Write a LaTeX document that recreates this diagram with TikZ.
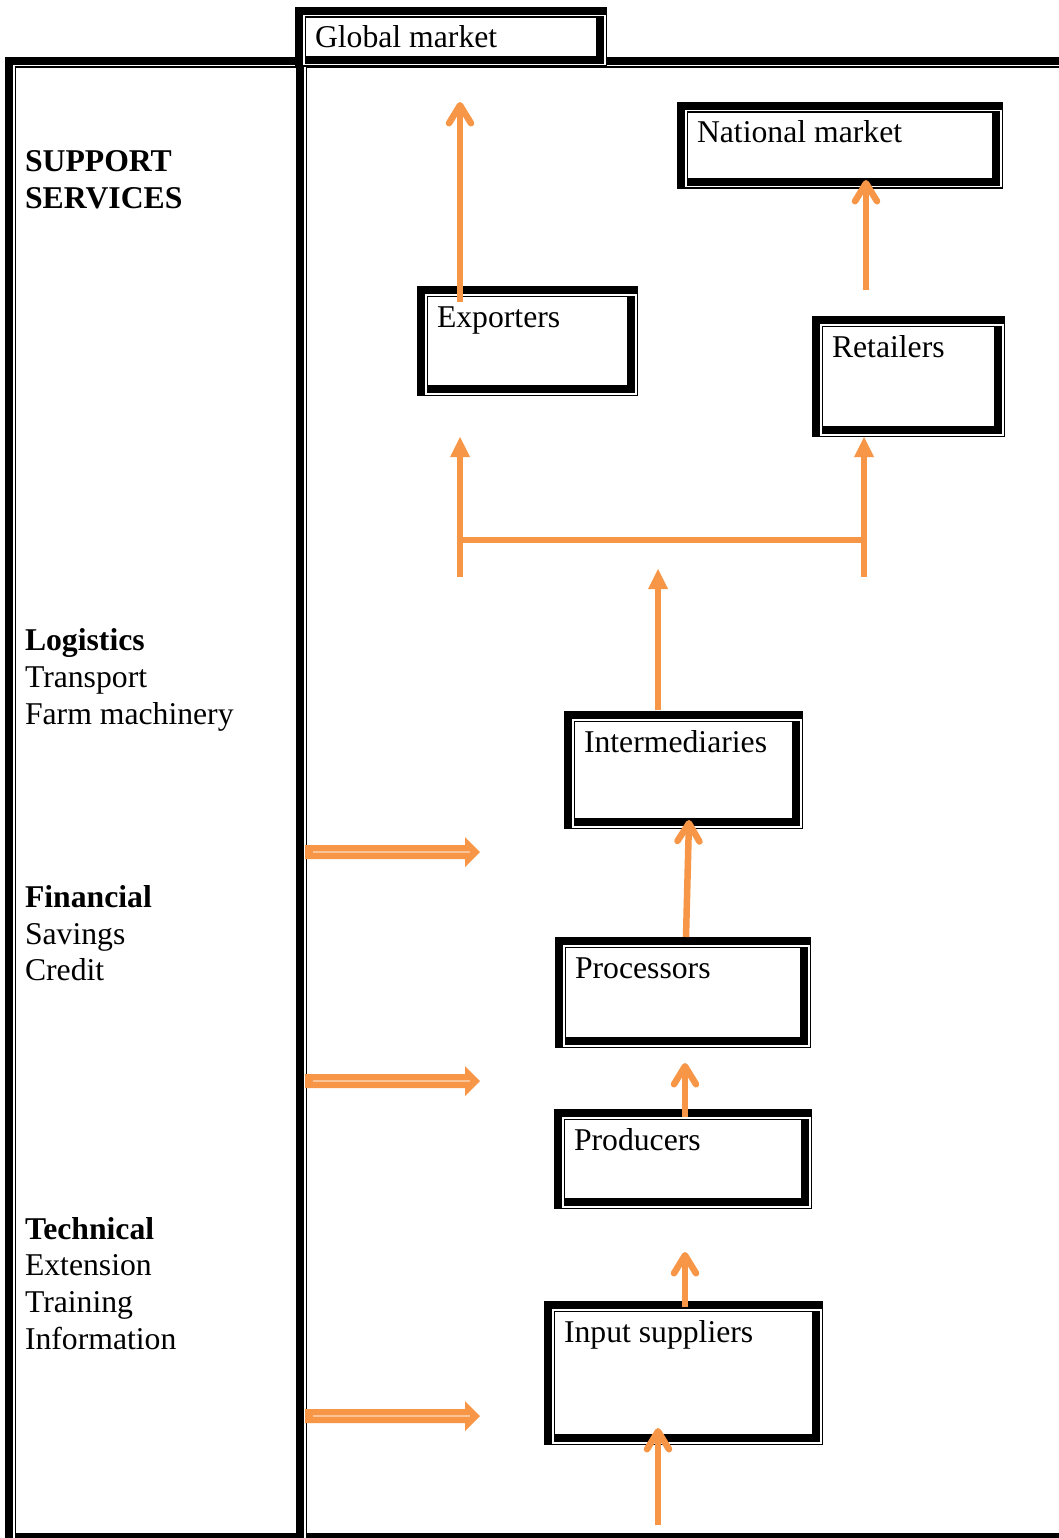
\documentclass[tikz,border=0pt]{standalone}
\usepackage{fontspec}
\setmainfont{Liberation Serif}
\usetikzlibrary{arrows.meta,calc,fit}
\definecolor{orr}{RGB}{247,150,70}
\definecolor{orlight}{RGB}{251,196,150}
\tikzset{
  lbl/.style={inner sep=0pt, outer sep=0pt, anchor=base west, font=\fontsize{31.7}{37}\selectfont},
  blbl/.style={inner sep=0pt, outer sep=0pt, anchor=base west, font=\fontsize{31.7}{37}\selectfont\bfseries},
  flow/.style={draw=orr, line width=6.5pt},
  vtip/.style={flow, -{Straight Barb[length=18pt,width=22pt,round]}},
  ttip/.style={flow, -{Triangle[length=20pt,width=20pt,line width=0pt]}},
  slot/.style={inner sep=0pt, outer sep=0pt},
}
% double (thick-thin) frame: name, x1, y1, x2, y2
\newcommand\dblframe[5]{%
  \coordinate (#1-nw) at (#2,#3);
  \coordinate (#1-se) at (#4,#5);
  \node[slot, fit=(#1-nw)(#1-se)] (#1) {};
  \fill[black] (#1.north west) rectangle (#1.south east);
  \fill[white] ($(#1.north west)+(8,8)$) rectangle ($(#1.south east)+(-1.5,-1.5)$);
  \fill[black] ($(#1.north west)+(9.5,9.5)$) rectangle ($(#1.south east)+(-3,-3)$);
  \fill[white] ($(#1.north west)+(11,11)$) rectangle ($(#1.south east)+(-11,-11)$);
}
\newcommand\dblbox[6]{%
  \dblframe{#1}{#2}{#3}{#4}{#5}
  \node[lbl] (#1-t) at ($(#1.north west)+(20,41)$) {#6};
}
\newcommand\blockarrow[2]{%
  \coordinate (#1s) at (305,#2);
  \coordinate (#1e) at (480,#2);
  \fill[orr] ($(#1s)+(0,-7)$) -- ($(#1e)+(-15,-7)$) -- ($(#1e)+(-15,-15)$) -- (#1e)
     -- ($(#1e)+(-15,15)$) -- ($(#1e)+(-15,7)$) -- ($(#1s)+(0,7)$) -- cycle;
  \draw[orlight, line width=2pt] ($(#1s)+(8,0)$) -- ($(#1e)+(-10,0)$);
}
\begin{document}
\begin{tikzpicture}[x=1pt, y=-1pt]
\useasboundingbox (0,0) rectangle (1059,1538);
\fill[white] (0,0) rectangle (1059,1538);
\clip (0,0) rectangle (1059,1538);

% table frame
\dblframe{rcell}{295}{57}{1080}{1544}
\dblframe{lcell}{5}{57}{307}{1544}
\dblbox{glob}{295}{7}{607}{67}{Global market}

% chain boxes
\dblbox{nat}{677}{102}{1003}{189}{National market}
\dblbox{exp}{417}{286}{638}{396}{Exporters}
\dblbox{ret}{812}{316}{1005}{437}{Retailers}
\dblbox{int}{564}{711}{803}{829}{Intermediaries}
\dblbox{proc}{555}{937}{811}{1048}{Processors}
\dblbox{prod}{554}{1109}{812}{1209}{Producers}
\dblbox{inp}{544}{1301}{823}{1445}{Input suppliers}

% left column texts
\node[blbl] (sup1) at (25,171.5) {SUPPORT};
\node[blbl] (sup2) at (25,208.5) {SERVICES};
\node[blbl] (log1) at (25,650) {Logistics};
\node[lbl] (log2) at (25,687) {Transport};
\node[lbl] (log3) at (25,724) {Farm machinery};
\node[blbl] (fin1) at (25,907) {Financial};
\node[lbl] (fin2) at (25,944) {Savings};
\node[lbl] (fin3) at (25,980) {Credit};
\node[blbl] (tec1) at (25,1239) {Technical};
\node[lbl] (tec2) at (25,1275) {Extension};
\node[lbl] (tec3) at (25,1312) {Training};
\node[lbl] (tec4) at (25,1349) {Information};

% flow arrows
\coordinate (a1s) at (460,302);  \coordinate (a1e) at (460,102);
\coordinate (a2s) at (866,290);  \coordinate (a2e) at (866,180);
\coordinate (bl)  at (460,577);  \coordinate (blt) at (460,437);
\coordinate (br)  at (864,577);  \coordinate (brt) at (864,437);
\coordinate (bml) at (460,540);  \coordinate (bmr) at (864,540);
\coordinate (a4s) at (658,710);  \coordinate (a4e) at (658,569);
\coordinate (a5s) at (686,937);  \coordinate (a5e) at (689,820);
\coordinate (a6s) at (685,1117); \coordinate (a6e) at (685,1063);
\coordinate (a7s) at (685,1307); \coordinate (a7e) at (685,1252);
\coordinate (a8s) at (658,1525); \coordinate (a8e) at (658,1428);

\draw[vtip] (a1s) -- (a1e);
\draw[vtip] (a2s) -- (a2e);
\draw[ttip] (bl) -- (blt);
\draw[ttip] (br) -- (brt);
\draw[flow] (bml) -- (bmr);
\draw[ttip] (a4s) -- (a4e);
\draw[vtip] (a5s) -- (a5e);
\draw[vtip] (a6s) -- (a6e);
\draw[vtip] (a7s) -- (a7e);
\draw[vtip] (a8s) -- (a8e);

% support arrows
\blockarrow{s1}{852}
\blockarrow{s2}{1081}
\blockarrow{s3}{1416}
\end{tikzpicture}
\end{document}
